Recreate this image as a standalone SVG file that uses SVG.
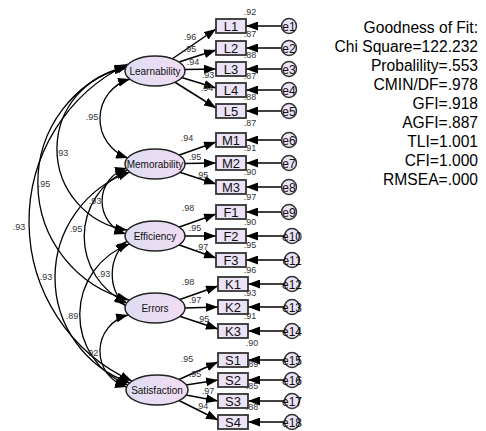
<svg xmlns="http://www.w3.org/2000/svg" width="486" height="431" viewBox="0 0 486 431">
<defs>
<linearGradient id="lg" x1="0" y1="0" x2="1" y2="0">
<stop offset="0" stop-color="#DDDDF3"/>
<stop offset="1" stop-color="#F3DDF3"/>
</linearGradient>
<marker id="ah" markerUnits="userSpaceOnUse" markerWidth="12" markerHeight="9" refX="12" refY="4.5" orient="auto-start-reverse">
<path d="M0,0 L12,4.5 L0,9 z" fill="#000"/>
</marker>
<style>
.lat{fill:url(#lg);stroke:#222;stroke-width:1.5}
.box{fill:#EDE3F6;stroke:#333;stroke-width:1.8}
.err{fill:#EDE3F6;stroke:#333;stroke-width:1.5}
.ln{fill:none;stroke:#000;stroke-width:1.5;marker-end:url(#ah)}
.cv{fill:none;stroke:#000;stroke-width:1.3;marker-start:url(#ah);marker-end:url(#ah)}
.lt{font-family:"Liberation Sans",Arial,sans-serif;font-size:10px;fill:#111;text-anchor:middle}
.bt{font-family:"Liberation Sans",Arial,sans-serif;font-size:13px;fill:#111;text-anchor:middle}
.et{font-family:"Liberation Sans",Arial,sans-serif;font-size:12px;fill:#111;text-anchor:middle}
.nl{font-family:"Liberation Sans",Arial,sans-serif;font-size:9px;fill:#333;text-anchor:middle}
.ft{font-family:"Liberation Sans",Arial,sans-serif;font-size:15.6px;fill:#000;text-anchor:end}
</style>
</defs>
<rect width="486" height="431" fill="#fff"/>

<g id="connectors">
<!-- loadings -->
<line class="ln" x1="172" y1="59" x2="216" y2="29"/>
<line class="ln" x1="179" y1="62" x2="216" y2="50"/>
<line class="ln" x1="185" y1="69.5" x2="216" y2="69"/>
<line class="ln" x1="180" y1="77" x2="216" y2="88"/>
<line class="ln" x1="173" y1="81" x2="216" y2="108"/>
<line class="ln" x1="178" y1="155.5" x2="216" y2="142"/>
<line class="ln" x1="185" y1="163.5" x2="216" y2="163"/>
<line class="ln" x1="179" y1="172" x2="216" y2="184"/>
<line class="ln" x1="178" y1="227.5" x2="216" y2="214"/>
<line class="ln" x1="185" y1="236" x2="216" y2="236"/>
<line class="ln" x1="178" y1="244.5" x2="216" y2="258"/>
<line class="ln" x1="178.5" y1="300" x2="218" y2="286"/>
<line class="ln" x1="185" y1="308" x2="218" y2="307"/>
<line class="ln" x1="179" y1="316" x2="218" y2="329"/>
<line class="ln" x1="179" y1="379.5" x2="218" y2="362"/>
<line class="ln" x1="186" y1="385" x2="218" y2="380"/>
<line class="ln" x1="186" y1="395" x2="218" y2="401"/>
<line class="ln" x1="179" y1="400.5" x2="218" y2="420"/>
<!-- error arrows -->
<line class="ln" x1="281.5" y1="26" x2="246" y2="26"/>
<line class="ln" x1="281.5" y1="48" x2="246" y2="48"/>
<line class="ln" x1="281.5" y1="69" x2="246" y2="69"/>
<line class="ln" x1="281.5" y1="90" x2="246" y2="90"/>
<line class="ln" x1="281.5" y1="111" x2="246" y2="111"/>
<line class="ln" x1="281.5" y1="140" x2="246" y2="140"/>
<line class="ln" x1="281.5" y1="163" x2="246" y2="163"/>
<line class="ln" x1="281.5" y1="187" x2="246" y2="187"/>
<line class="ln" x1="281.5" y1="212" x2="246" y2="212"/>
<line class="ln" x1="284.5" y1="236" x2="246" y2="236"/>
<line class="ln" x1="284.5" y1="260" x2="246" y2="260"/>
<line class="ln" x1="284.5" y1="284" x2="248" y2="284"/>
<line class="ln" x1="284.5" y1="307" x2="248" y2="307"/>
<line class="ln" x1="284.5" y1="331" x2="248" y2="331"/>
<line class="ln" x1="284.5" y1="360" x2="248" y2="360"/>
<line class="ln" x1="284.5" y1="380" x2="248" y2="380"/>
<line class="ln" x1="284.5" y1="401" x2="248" y2="401"/>
<line class="ln" x1="284.5" y1="422" x2="248" y2="422"/>
<!-- covariances -->
<path class="cv" d="M130,79 A41.4,41.4 0 0 0 128,158"/>
<path class="cv" d="M126.5,68 A81.9,81.9 0 0 0 127,230"/>
<path class="cv" d="M127,66 A121,121 0 0 0 129,300"/>
<path class="cv" d="M128,64 A174.9,174.9 0 0 0 132,381"/>
<path class="cv" d="M127,168 A34.5,34.5 0 0 0 126,234"/>
<path class="cv" d="M127.5,170 A72.9,72.9 0 0 0 127,303"/>
<path class="cv" d="M130,172 A111.7,111.7 0 0 0 130,383"/>
<path class="cv" d="M127,241 A44.7,44.7 0 0 0 125.5,306"/>
<path class="cv" d="M129.6,244 A75.2,75.2 0 0 0 128,385"/>
<path class="cv" d="M128,315 A37.3,37.3 0 0 0 127,387"/>
<!-- loading labels -->
<text class="nl" x="190" y="40">.96</text>
<text class="nl" x="190" y="52">.95</text>
<text class="nl" x="193" y="65">.94</text>
<text class="nl" x="208" y="78">.93</text>
<text class="nl" x="207" y="91">.94</text>
<text class="nl" x="187" y="141">.94</text>
<text class="nl" x="195" y="160">.95</text>
<text class="nl" x="202" y="178">.95</text>
<text class="nl" x="188" y="211">.98</text>
<text class="nl" x="195" y="231">.95</text>
<text class="nl" x="202" y="250">.97</text>
<text class="nl" x="188" y="285">.98</text>
<text class="nl" x="195" y="303">.97</text>
<text class="nl" x="203" y="322">.95</text>
<text class="nl" x="187" y="362">.95</text>
<text class="nl" x="195" y="377">.95</text>
<text class="nl" x="208" y="394">.97</text>
<text class="nl" x="202" y="409">.94</text>
<!-- covariance labels -->
<text class="nl" x="92" y="120">.95</text>
<text class="nl" x="62" y="156">.93</text>
<text class="nl" x="44" y="187">.95</text>
<text class="nl" x="19" y="230">.93</text>
<text class="nl" x="95" y="204">.93</text>
<text class="nl" x="76" y="232">.95</text>
<text class="nl" x="46" y="280">.93</text>
<text class="nl" x="104" y="277">.93</text>
<text class="nl" x="72" y="319">.89</text>
<text class="nl" x="92" y="356">.92</text>
</g>

<g id="Learnability"><ellipse class="lat" cx="155" cy="71" rx="30" ry="15"/><text class="lt" x="155" y="74.5">Learnability</text></g>
<g id="Memorability"><ellipse class="lat" cx="155" cy="164" rx="30" ry="15"/><text class="lt" x="155" y="167.5">Memorability</text></g>
<g id="Efficiency"><ellipse class="lat" cx="155" cy="236" rx="30" ry="15"/><text class="lt" x="155" y="239.5">Efficiency</text></g>
<g id="Errors"><ellipse class="lat" cx="155" cy="308" rx="30" ry="15"/><text class="lt" x="155" y="311.5">Errors</text></g>
<g id="Satisfaction"><ellipse class="lat" cx="157" cy="390" rx="31" ry="15"/><text class="lt" x="157" y="393.5">Satisfaction</text></g>

<g id="L1"><rect class="box" x="216" y="19" width="30" height="14"/><text class="bt" x="231" y="31">L1</text><text class="nl" x="250" y="15">.92</text></g>
<g id="L2"><rect class="box" x="216" y="41" width="30" height="14"/><text class="bt" x="231" y="53">L2</text><text class="nl" x="250" y="37">.87</text></g>
<g id="L3"><rect class="box" x="216" y="62" width="30" height="14"/><text class="bt" x="231" y="74">L3</text><text class="nl" x="250" y="58">.88</text></g>
<g id="L4"><rect class="box" x="216" y="83" width="30" height="14"/><text class="bt" x="231" y="95">L4</text><text class="nl" x="250" y="79">.87</text></g>
<g id="L5"><rect class="box" x="216" y="104" width="30" height="14"/><text class="bt" x="231" y="116">L5</text><text class="nl" x="250" y="100">.88</text></g>
<g id="M1"><rect class="box" x="216" y="133" width="30" height="14"/><text class="bt" x="231" y="145">M1</text><text class="nl" x="250" y="126">.87</text></g>
<g id="M2"><rect class="box" x="216" y="156" width="30" height="14"/><text class="bt" x="231" y="168">M2</text><text class="nl" x="250" y="151">.91</text></g>
<g id="M3"><rect class="box" x="216" y="180" width="30" height="14"/><text class="bt" x="231" y="192">M3</text><text class="nl" x="250" y="175">.90</text></g>
<g id="F1"><rect class="box" x="216" y="205" width="30" height="14"/><text class="bt" x="231" y="217">F1</text><text class="nl" x="250" y="200">.97</text></g>
<g id="F2"><rect class="box" x="216" y="229" width="30" height="14"/><text class="bt" x="231" y="241">F2</text><text class="nl" x="250" y="225">.90</text></g>
<g id="F3"><rect class="box" x="216" y="253" width="30" height="14"/><text class="bt" x="231" y="265">F3</text><text class="nl" x="250" y="248">.95</text></g>
<g id="K1"><rect class="box" x="218" y="277" width="30" height="14"/><text class="bt" x="233" y="289">K1</text><text class="nl" x="250" y="273">.96</text></g>
<g id="K2"><rect class="box" x="218" y="300" width="30" height="14"/><text class="bt" x="233" y="312">K2</text><text class="nl" x="250" y="296">.93</text></g>
<g id="K3"><rect class="box" x="218" y="324" width="30" height="14"/><text class="bt" x="233" y="336">K3</text><text class="nl" x="250" y="319">.91</text></g>
<g id="S1"><rect class="box" x="218" y="353" width="30" height="14"/><text class="bt" x="233" y="365">S1</text><text class="nl" x="252" y="346">.90</text></g>
<g id="S2"><rect class="box" x="218" y="373" width="30" height="14"/><text class="bt" x="233" y="385">S2</text><text class="nl" x="252" y="367">.89</text></g>
<g id="S3"><rect class="box" x="218" y="394" width="30" height="14"/><text class="bt" x="233" y="406">S3</text><text class="nl" x="252" y="389">.85</text></g>
<g id="S4"><rect class="box" x="218" y="415" width="30" height="14"/><text class="bt" x="233" y="427">S4</text><text class="nl" x="252" y="410">.88</text></g>

<g id="e1"><circle class="err" cx="289" cy="26" r="7.5"/><text class="et" x="289" y="30.5">e1</text></g>
<g id="e2"><circle class="err" cx="289" cy="48" r="7.5"/><text class="et" x="289" y="52.5">e2</text></g>
<g id="e3"><circle class="err" cx="289" cy="69" r="7.5"/><text class="et" x="289" y="73.5">e3</text></g>
<g id="e4"><circle class="err" cx="289" cy="90" r="7.5"/><text class="et" x="289" y="94.5">e4</text></g>
<g id="e5"><circle class="err" cx="289" cy="111" r="7.5"/><text class="et" x="289" y="115.5">e5</text></g>
<g id="e6"><circle class="err" cx="289" cy="140" r="7.5"/><text class="et" x="289" y="144.5">e6</text></g>
<g id="e7"><circle class="err" cx="289" cy="163" r="7.5"/><text class="et" x="289" y="167.5">e7</text></g>
<g id="e8"><circle class="err" cx="289" cy="187" r="7.5"/><text class="et" x="289" y="191.5">e8</text></g>
<g id="e9"><circle class="err" cx="289" cy="212" r="7.5"/><text class="et" x="289" y="216.5">e9</text></g>
<g id="e10"><circle class="err" cx="292" cy="236" r="7.5"/><text class="et" x="292" y="240.5">e10</text></g>
<g id="e11"><circle class="err" cx="292" cy="260" r="7.5"/><text class="et" x="292" y="264.5">e11</text></g>
<g id="e12"><circle class="err" cx="292" cy="284" r="7.5"/><text class="et" x="292" y="288.5">e12</text></g>
<g id="e13"><circle class="err" cx="292" cy="307" r="7.5"/><text class="et" x="292" y="311.5">e13</text></g>
<g id="e14"><circle class="err" cx="292" cy="331" r="7.5"/><text class="et" x="292" y="335.5">e14</text></g>
<g id="e15"><circle class="err" cx="292" cy="360" r="7.5"/><text class="et" x="292" y="364.5">e15</text></g>
<g id="e16"><circle class="err" cx="292" cy="380" r="7.5"/><text class="et" x="292" y="384.5">e16</text></g>
<g id="e17"><circle class="err" cx="292" cy="401" r="7.5"/><text class="et" x="292" y="405.5">e17</text></g>
<g id="e18"><circle class="err" cx="292" cy="422" r="7.5"/><text class="et" x="292" y="426.5">e18</text></g>

<g id="fit">
<text class="ft" x="478" y="33">Goodness of Fit:</text>
<text class="ft" x="478" y="52">Chi Square=122.232</text>
<text class="ft" x="478" y="71">Probalility=.553</text>
<text class="ft" x="478" y="90">CMIN/DF=.978</text>
<text class="ft" x="478" y="109">GFI=.918</text>
<text class="ft" x="478" y="128">AGFI=.887</text>
<text class="ft" x="478" y="147">TLI=1.001</text>
<text class="ft" x="478" y="166">CFI=1.000</text>
<text class="ft" x="478" y="185">RMSEA=.000</text>
</g>
</svg>
